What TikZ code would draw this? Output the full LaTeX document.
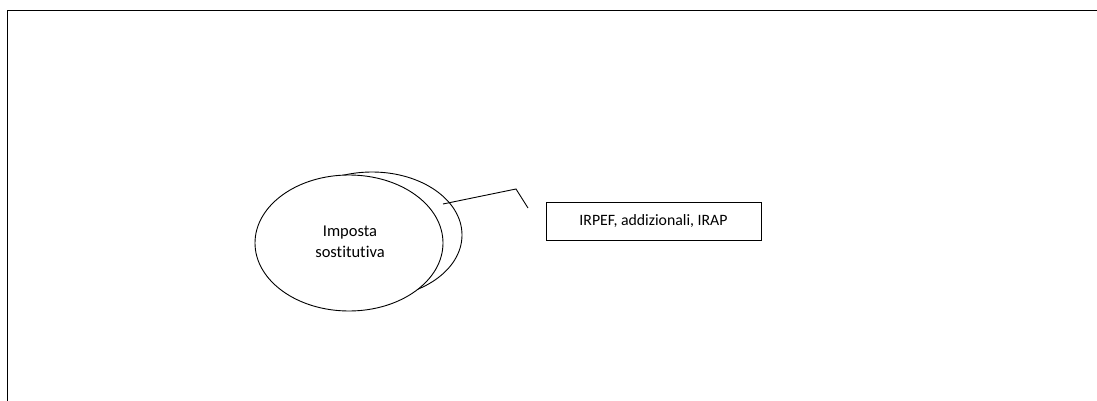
\documentclass[tikz,border=0pt]{standalone}
\usepackage{fontspec}
\setmainfont[Ligatures=NoCommon]{Carlito}
\usetikzlibrary{shapes.geometric}
\begin{document}
\begin{tikzpicture}[x=1pt,y=-1pt,
  frame/.style={draw=black,line width=1.6pt},
  bubble/.style={ellipse,draw=black,line width=0.9pt,fill=white,inner sep=0pt},
  labelbox/.style={draw=black,line width=0.9pt,fill=white,minimum width=215pt,minimum height=38pt,font=\fontsize{15.8}{19}\selectfont},
  leader/.style={draw=black,line width=0.9pt}]
\useasboundingbox (0,0) rectangle (1097,401);
\clip (0,0) rectangle (1097,401);
\draw[frame] (7.5,420) -- (7.5,10.5) -- (1120,10.5);
\node[bubble,minimum width=180pt,minimum height=126pt] (back) at (372,235) {};
\node[bubble,minimum width=188pt,minimum height=136pt] (front) at (349,243) {};
\node[align=center,font=\fontsize{16.5}{21}\selectfont,inner sep=0pt] (lbl) at (350,242) {Imposta\\sostitutiva};
\coordinate (s) at (443,204);
\coordinate (k) at (516,189);
\coordinate (e) at (528,208);
\node[labelbox] (box) at (653.5,221) {IRPEF, addizionali, IRAP};
\draw[leader] (s) -- (k) -- (e);
\end{tikzpicture}
\end{document}
